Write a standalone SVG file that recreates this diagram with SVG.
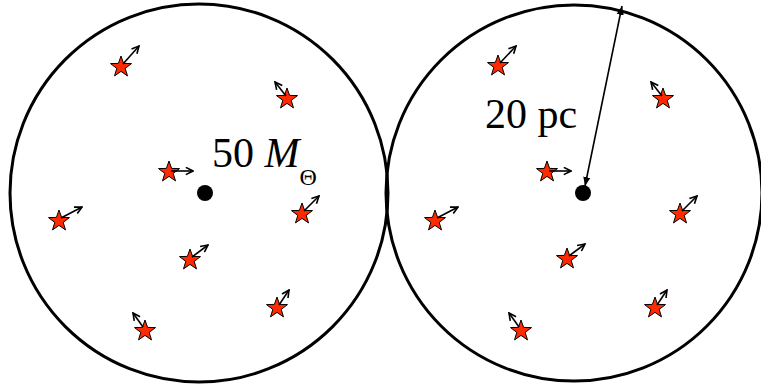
<svg xmlns="http://www.w3.org/2000/svg" width="761" height="387" viewBox="0 0 761 387">
<style>
.ring{fill:none;stroke:#000;stroke-width:3}
.star{fill:#ff2a00;stroke:#000;stroke-width:1}
.vel{stroke:#000;stroke-width:1.6;fill:none}
</style>
<defs>
<marker id="open" viewBox="0 0 10 10" refX="9" refY="5" markerWidth="9" markerHeight="9" markerUnits="userSpaceOnUse" orient="auto">
<path d="M1,1 L9,5 L1,9" fill="none" stroke="#000" stroke-width="1.8"/>
</marker>
<marker id="solid" viewBox="0 0 10 10" refX="10" refY="5" markerWidth="9" markerHeight="9" markerUnits="userSpaceOnUse" orient="auto-start-reverse">
<path d="M0,1 L10,5 L0,9 Z" fill="#000"/>
</marker>
<path id="st" d="M0,-11 L2.6,-3.6 L10.5,-3.4 L4.2,1.4 L6.5,8.9 L0,4.4 L-6.5,8.9 L-4.2,1.4 L-10.5,-3.4 L-2.6,-3.6 Z"/>
</defs>
<g id="cluster-left">
<circle class="ring" cx="199" cy="193" r="189"/>
<circle id="bh-left" cx="205" cy="193" r="8" fill="#000"/>
</g>
<g id="cluster-right">
<circle class="ring" cx="574" cy="193" r="188"/>
<circle id="bh-right" cx="583" cy="193" r="8" fill="#000"/>
</g>
<g id="stars-left">
<g id="sl1"><use href="#st" class="star" x="121" y="67"/><line class="vel" x1="123" y1="64" x2="139" y2="46" marker-end="url(#open)"/></g>
<g id="sl2"><use href="#st" class="star" x="287" y="99"/><line class="vel" x1="286" y1="96" x2="275" y2="82" marker-end="url(#open)"/></g>
<g id="sl3"><use href="#st" class="star" x="169" y="172"/><line class="vel" x1="171" y1="171" x2="193" y2="171" marker-end="url(#open)"/></g>
<g id="sl4"><use href="#st" class="star" x="59" y="221"/><line class="vel" x1="61" y1="218" x2="82" y2="207" marker-end="url(#open)"/></g>
<g id="sl5"><use href="#st" class="star" x="302" y="214"/><line class="vel" x1="304" y1="211" x2="319" y2="196" marker-end="url(#open)"/></g>
<g id="sl6"><use href="#st" class="star" x="190" y="260"/><line class="vel" x1="192" y1="257" x2="208" y2="245" marker-end="url(#open)"/></g>
<g id="sl7"><use href="#st" class="star" x="277" y="308"/><line class="vel" x1="279" y1="305" x2="289" y2="290" marker-end="url(#open)"/></g>
<g id="sl8"><use href="#st" class="star" x="145" y="331"/><line class="vel" x1="143" y1="327" x2="133" y2="313" marker-end="url(#open)"/></g>
</g>
<g id="stars-right">
<g id="sr1"><use href="#st" class="star" x="498" y="66"/><line class="vel" x1="500" y1="63" x2="516" y2="46" marker-end="url(#open)"/></g>
<g id="sr2"><use href="#st" class="star" x="663" y="99"/><line class="vel" x1="662" y1="96" x2="651" y2="82" marker-end="url(#open)"/></g>
<g id="sr3"><use href="#st" class="star" x="547" y="172"/><line class="vel" x1="549" y1="171" x2="571" y2="171" marker-end="url(#open)"/></g>
<g id="sr4"><use href="#st" class="star" x="435" y="221"/><line class="vel" x1="437" y1="218" x2="458" y2="207" marker-end="url(#open)"/></g>
<g id="sr5"><use href="#st" class="star" x="680" y="214"/><line class="vel" x1="682" y1="211" x2="697" y2="196" marker-end="url(#open)"/></g>
<g id="sr6"><use href="#st" class="star" x="567" y="259"/><line class="vel" x1="569" y1="256" x2="585" y2="244" marker-end="url(#open)"/></g>
<g id="sr7"><use href="#st" class="star" x="655" y="308"/><line class="vel" x1="657" y1="305" x2="667" y2="290" marker-end="url(#open)"/></g>
<g id="sr8"><use href="#st" class="star" x="521" y="331"/><line class="vel" x1="519" y1="327" x2="509" y2="313" marker-end="url(#open)"/></g>
</g>
<g id="connectors">
<line x1="585" y1="186" x2="622" y2="6" stroke="#000" stroke-width="1.6" marker-start="url(#solid)" marker-end="url(#solid)"/>
</g>
<g id="labels">
<text x="212" y="167" style="font-family: 'Times New Roman', 'Liberation Serif', Times, serif; font-size: 42px; fill: #000">50 <tspan style="font-style: italic">M</tspan><tspan style="font-size: 24px" dy="18">Θ</tspan></text>
<text x="485" y="128" style="font-family: 'Times New Roman', 'Liberation Serif', Times, serif; font-size: 42px; fill: #000">20 pc</text>
</g>
</svg>
